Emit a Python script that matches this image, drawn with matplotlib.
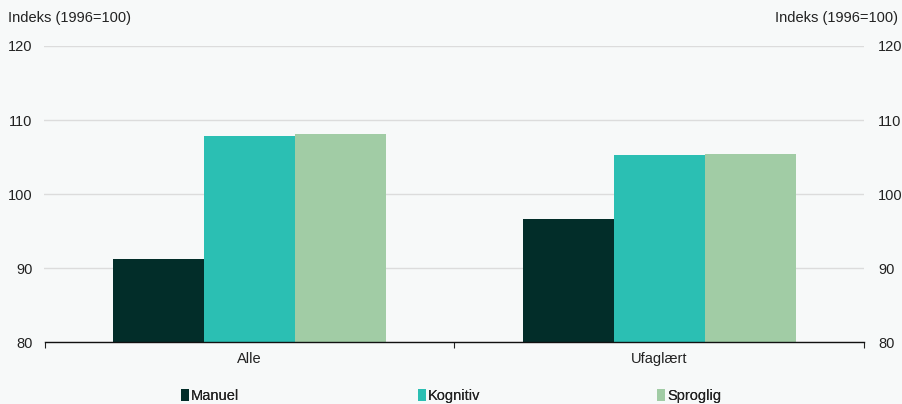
import matplotlib
matplotlib.use("Agg")
import matplotlib.pyplot as plt
from matplotlib.patches import Patch
import numpy as np

plt.rcParams['font.family'] = ['Liberation Sans', 'DejaVu Sans']

categories = ["Alle", "Ufaglært"]
series = ["Manuel", "Kognitiv", "Sproglig"]
manuel = [91.2, 96.6]
kognitiv = [107.8, 105.3]
sproglig = [108.1, 105.4]
yticks = [80, 90, 100, 110, 120]
axis_label = "Indeks (1996=100)"

colors = ["#022d29", "#2bbfb3", "#a1cca5"]
bg = "#f7f9f9"
fs = 10.5

W, H = 903, 404
fig = plt.figure(figsize=(W / 100, H / 100), dpi=100, facecolor=bg)
ax = fig.add_axes([44.5 / W, 1 - 342.3 / H, (864 - 44.5) / W, (342.3 - 46) / H])
ax.set_facecolor(bg)

x = np.arange(len(categories))
bw = 0.222
values = [manuel, kognitiv, sproglig]
for i, (vals, col) in enumerate(zip(values, colors)):
    ax.bar(x + (i - 1) * bw, np.array(vals) - 80, bottom=80, width=bw,
           color=col, edgecolor="none", zorder=3)

ax.set_xlim(-0.5, 1.5)
ax.set_ylim(80, 120)
ax.set_yticks(yticks)
ax.set_yticklabels([str(t) for t in yticks])
ax.tick_params(axis='y', length=0, pad=8.8, labelsize=fs, labelcolor="#222222")
ax.grid(axis='y', color="#dcdcdc", linewidth=1, zorder=0)

# category labels between boundary ticks
ax.set_xticks([-0.5, 0.5, 1.5])
ax.set_xticklabels([])
ax.set_xticks(x, minor=True)
ax.set_xticklabels(categories, minor=True)
ax.tick_params(axis='x', which='major', length=4, width=0.8, color="#222222")
ax.tick_params(axis='x', which='minor', length=0, pad=7, labelsize=fs, labelcolor="#222222")

for s in ["top", "left", "right"]:
    ax.spines[s].set_visible(False)
ax.spines["bottom"].set_color("#111111")
ax.spines["bottom"].set_linewidth(1.0)
ax.spines["bottom"].set_zorder(4)

# right-hand copy of the value axis
ax2 = ax.twinx()
ax2.set_ylim(ax.get_ylim())
ax2.set_yticks(yticks)
ax2.set_yticklabels([str(t) for t in yticks])
ax2.tick_params(axis='y', length=0, pad=10, labelsize=fs, labelcolor="#222222")
for s in ["top", "left", "right", "bottom"]:
    ax2.spines[s].set_visible(False)

fig.text(8 / W, 1 - 18 / H, axis_label, fontsize=fs, color="#222222",
         ha="left", va="center")
fig.text(898 / W, 1 - 18 / H, axis_label, fontsize=fs, color="#222222",
         ha="right", va="center")

# legend entries laid out in evenly spaced columns
leg_x = [181, 418, 657]
for name, col, lx in zip(series, colors, leg_x):
    leg = fig.legend(handles=[Patch(facecolor=col, edgecolor="none", label=name)],
                     loc="center left", bbox_to_anchor=(lx / W, 1 - 396 / H),
                     frameon=False, fontsize=fs, handlelength=0.55, handleheight=0.8,
                     handletextpad=0.15, borderpad=0, borderaxespad=0,
                     labelcolor="#222222")
    fig.add_artist(leg)

fig.savefig("out.png", dpi=100, facecolor=bg)
